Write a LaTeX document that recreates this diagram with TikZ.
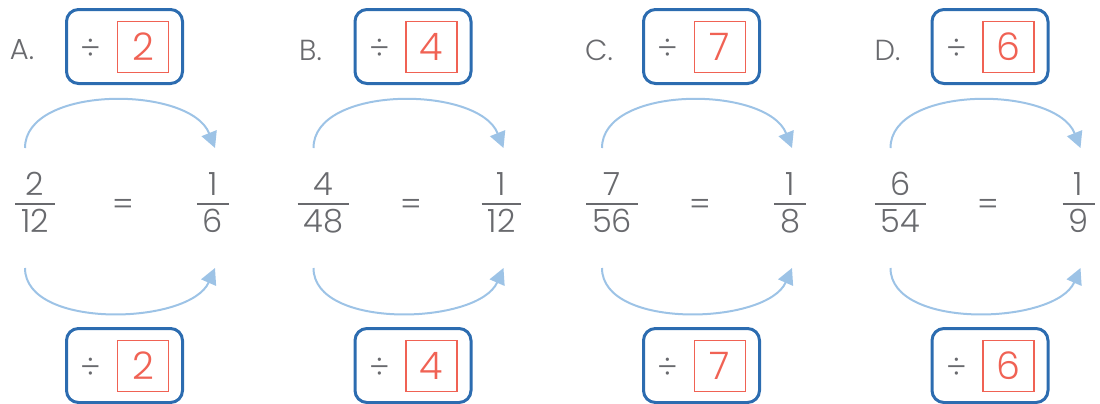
\documentclass[tikz,border=0pt]{standalone}
\usepackage{fontspec}
\setmainfont{Poppins}[UprightFont={* Light}]
\usetikzlibrary{arrows.meta}
\definecolor{txtgray}{RGB}{105,106,110}
\definecolor{boxblue}{RGB}{44,108,176}
\definecolor{numred}{RGB}{240,98,84}
\definecolor{arcblue}{RGB}{157,195,230}
\setlength{\arrayrulewidth}{1pt}
\newcommand\frc[2]{\begin{tabular}{@{\hspace{3pt}}c@{\hspace{3pt}}}#1\\[-2pt]\hline\rule{0pt}{14pt}#2\end{tabular}}
\tikzset{>=Triangle,every node/.style={font=\fontsize{16}{18}\selectfont,text=txtgray},
lbl/.style={font=\fontsize{14.5}{16}\selectfont},
opbox/.style={draw=boxblue,line width=1.5pt,rounded corners=6pt,minimum width=58pt,minimum height=37pt},
numbox/.style={draw=numred,line width=.75pt,minimum size=25.5pt,inner sep=0pt,text=numred,font=\fontsize{19}{20}\selectfont},
arc/.style={draw=arcblue,line width=1pt,-{Triangle[length=8pt,width=8pt]}}}
\begin{document}
\begin{tikzpicture}[x=.5pt,y=-.5pt]
\useasboundingbox (0,0) rectangle (1100,403);
% quatre exercices : fraction simplifiée par la même division en haut et en bas
\foreach \i/\l/\n/\d/\q/\r in {0/A/2/12/2/6,1/B/4/48/4/12,2/C/7/56/7/8,3/D/6/54/6/9}{
\begin{scope}[shift={(\i*288.5,0)}]
\node[lbl] (lab\l) at (22,50) {\l.};
\node[opbox] (tb\l) at (124.5,46.5) {};
\node (td\l) at (91,49) {÷};
\node[numbox] (tn\l) at (143,47) {\q};
\node[opbox] (bb\l) at (124.5,365.5) {};
\node (bd\l) at (91,368) {÷};
\node[numbox] (bn\l) at (143,366) {\q};
\node (lf\l) at (35,207) {\frc{\n}{\d}};
\node (eq\l) at (123,207) {=};
\node (rf\l) at (213,207) {\frc{1}{\r}};
\coordinate (ts\l) at (25,148);
\coordinate (te\l) at (215,148);
\coordinate (bs\l) at (25,268);
\coordinate (be\l) at (215,268);
\draw[arc] (ts\l) .. controls (25,85) and (190,85) .. (te\l);
\draw[arc] (bs\l) .. controls (25,330) and (190,325) .. (be\l);
\end{scope}}
\end{tikzpicture}
\end{document}
